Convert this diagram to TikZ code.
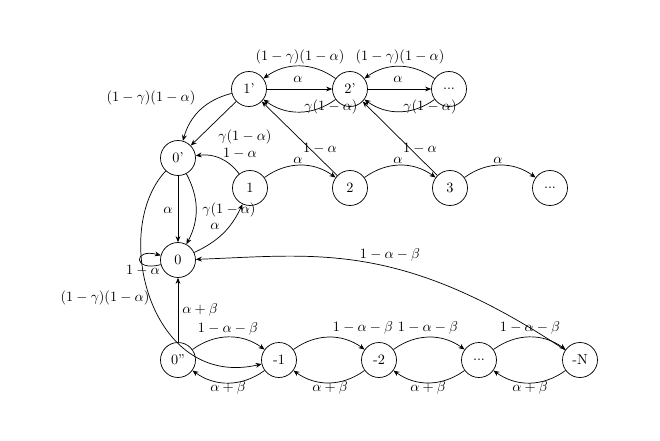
\documentclass[tikz,border=0pt]{standalone}
\usetikzlibrary{arrows.meta}
\begin{document}
\begin{tikzpicture}[x=0.7pt,y=0.7pt,
  >={Stealth[length=4.2pt,width=3.4pt]},
  st/.style={circle,draw,line width=0.5pt,minimum size=24.5pt,inner sep=0pt},
  lbl/.style={inner sep=0pt},
  arr/.style={->,line width=0.5pt},
  bl/.style={bend left=36},
  br/.style={bend right=36}]
\useasboundingbox (0,0) rectangle (660,-440);
% states
\node[st] (a1) at (249,-89) {1'};
\node[st] (a2) at (350,-89) {2'};
\node[st] (a3) at (449,-89) {...};
\node[st] (z1) at (178,-158) {0'};
\node[st] (b1) at (250,-188) {1};
\node[st] (b2) at (350,-188) {2};
\node[st] (b3) at (450,-188) {3};
\node[st] (b4) at (550,-188) {...};
\node[st] (z0) at (178,-260) {0};
\node[st] (z2) at (178,-360) {0''};
\node[st] (m1) at (279,-360) {-1};
\node[st] (m2) at (379,-360) {-2};
\node[st] (m3) at (479,-360) {...};
\node[st] (mN) at (580,-360) {-N};
% top row
\draw[arr] (a1) -- (a2);
\draw[arr] (a2) to[br] (a1);
\draw[arr] (a2) to[bl] (a1);
\draw[arr] (a2) -- (a3);
\draw[arr] (a3) to[br] (a2);
\draw[arr] (a3) to[bl] (a2);
% to 0'
\draw[arr] (a1) to[bend right=30] (z1);
\draw[arr] (a1) -- (z1);
\draw[arr] (b1) to[bend right=30] (z1);
% 0' to 0
\draw[arr] (z1) -- (z0);
\draw[arr] (z1) to[bend left=28] (z0);
\draw[arr] (z0) to[bend right=20] (b1);
\draw[arr] (z0) to[loop left] (z0);
% middle row
\draw[arr] (b1) to[bl] (b2);
\draw[arr] (b2) to[bl] (b3);
\draw[arr] (b3) to[bl] (b4);
\draw[arr] (b2) -- (a1);
\draw[arr] (b3) -- (a2);
% long curves
\draw[arr] (z1) .. controls (110,-230) and (150,-390) .. (m1);
\draw[arr] (mN) .. controls (400,-240) and (316,-255) .. (z0);
% bottom row
\draw[arr] (z2) -- (z0);
\draw[arr] (z2) to[bl] (m1);
\draw[arr] (m1) to[bl] (z2);
\draw[arr] (m1) to[bl] (m2);
\draw[arr] (m2) to[bl] (m1);
\draw[arr] (m2) to[bl] (m3);
\draw[arr] (m3) to[bl] (m2);
\draw[arr] (m3) to[bl] (mN);
\draw[arr] (mN) to[bl] (m3);
% labels
\node[lbl] (l1) at (300,-57) {$(1-\gamma)(1-\alpha)$};
\node[lbl] (l2) at (400,-57) {$(1-\gamma)(1-\alpha)$};
\node[lbl] (l3) at (298,-79) {$\alpha$};
\node[lbl] (l4) at (398,-79) {$\alpha$};
\node[lbl] (l5) at (331,-107) {$\gamma(1-\alpha)$};
\node[lbl] (l6) at (430,-107) {$\gamma(1-\alpha)$};
\node[lbl] (l7) at (151,-98) {$(1-\gamma)(1-\alpha)$};
\node[lbl] (l8) at (245,-137) {$\gamma(1-\alpha)$};
\node[lbl] (l9) at (240,-153) {$1-\alpha$};
\node[lbl] (l10) at (168,-210) {$\alpha$};
\node[lbl] (l11) at (229,-210) {$\gamma(1-\alpha)$};
\node[lbl] (l12) at (215,-226) {$\alpha$};
\node[lbl] (l13) at (143,-270) {$1-\alpha$};
\node[lbl] (l14) at (298,-160) {$\alpha$};
\node[lbl] (l15) at (398,-160) {$\alpha$};
\node[lbl] (l16) at (498,-160) {$\alpha$};
\node[lbl] (l17) at (320,-148) {$1-\alpha$};
\node[lbl] (l18) at (420,-148) {$1-\alpha$};
\node[lbl] (l19) at (105,-298) {$(1-\gamma)(1-\alpha)$};
\node[lbl] (l20) at (200,-310) {$\alpha+\beta$};
\node[lbl] (l21) at (228,-329) {$1-\alpha-\beta$};
\node[lbl] (l22) at (363,-328) {$1-\alpha-\beta$};
\node[lbl] (l23) at (428,-328) {$1-\alpha-\beta$};
\node[lbl] (l24) at (530,-328) {$1-\alpha-\beta$};
\node[lbl] (l25) at (228,-388) {$\alpha+\beta$};
\node[lbl] (l26) at (330,-388) {$\alpha+\beta$};
\node[lbl] (l27) at (428,-388) {$\alpha+\beta$};
\node[lbl] (l28) at (530,-388) {$\alpha+\beta$};
\node[lbl] (l29) at (390,-255) {$1-\alpha-\beta$};
\end{tikzpicture}
\end{document}
